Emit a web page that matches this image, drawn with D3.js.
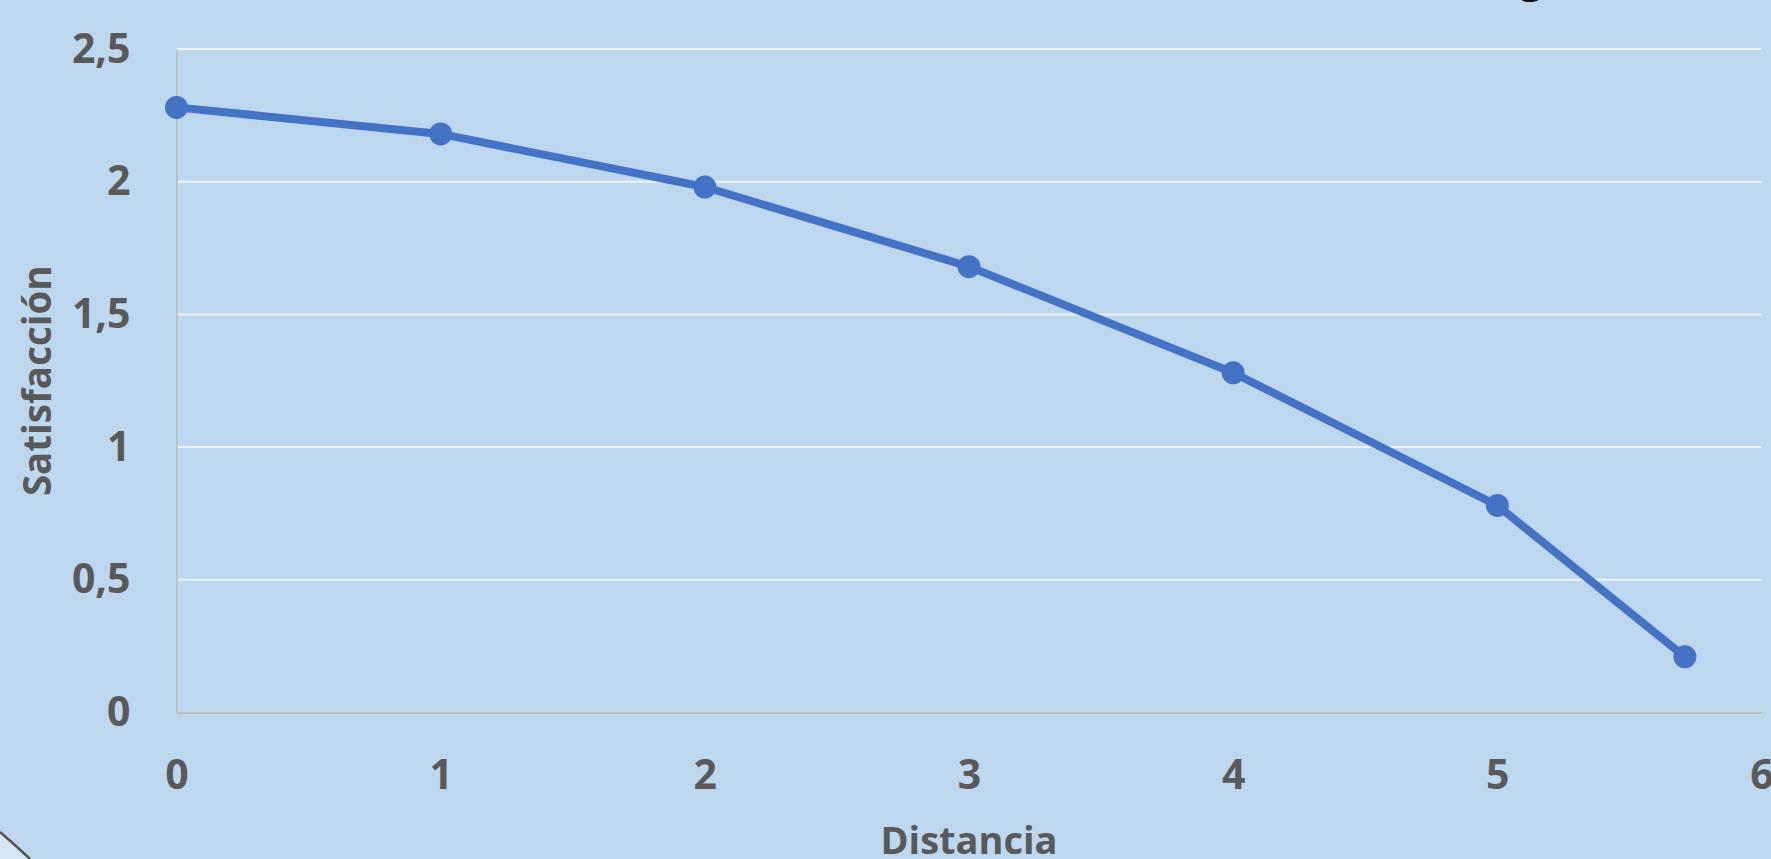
<!DOCTYPE html>
<html>
<head>
<meta charset="utf-8">
<script src="https://cdn.jsdelivr.net/npm/d3@7"></script>
<style>
  html, body { margin: 0; padding: 0; background: #bdd7ee; overflow: hidden; }
  svg { display: block; }
</style>
</head>
<body>
<svg id="chart" width="1771" height="859"></svg>
<script>
const distancia = [0, 1, 2, 3, 4, 5, 5.71];
const satisfaccion = [2.28, 2.18, 1.98, 1.68, 1.28, 0.78, 0.21];
const xTicks = [0, 1, 2, 3, 4, 5, 6];
const yTicks = [0, 0.5, 1, 1.5, 2, 2.5];
const xTitle = "Distancia";
const yTitle = "Satisfacción";

const W = 1771, H = 859;
const svg = d3.select("#chart");
const font = "'Open Sans', Lato, sans-serif";
const textColor = "#595959";

svg.append("rect").attr("width", W).attr("height", H).attr("fill", "#bdd7ee");

const x = d3.scaleLinear().domain([0, 6]).range([176.5, 1761.5]);
const y = d3.scaleLinear().domain([0, 2.5]).range([712.5, 49]);

// gridlines
svg.append("g")
  .selectAll("line")
  .data(yTicks.filter(d => d > 0))
  .join("line")
  .attr("x1", x(0)).attr("x2", x(6))
  .attr("y1", d => y(d)).attr("y2", d => y(d))
  .attr("stroke", "#f0f4f9").attr("stroke-width", 2);

// y axis
const yAxis = svg.append("g")
  .attr("transform", `translate(${x(0)},0)`)
  .call(d3.axisLeft(y).tickValues(yTicks).tickSize(0).tickPadding(46)
    .tickFormat(d => String(d).replace(".", ",")));
yAxis.select(".domain").attr("stroke", "#bfbfbf").attr("stroke-width", 2);
yAxis.selectAll("text")
  .attr("fill", textColor).attr("font-family", font)
  .attr("font-weight", "bold").attr("font-size", 41);

// x axis
const xAxis = svg.append("g")
  .attr("transform", `translate(0,${y(0)})`)
  .call(d3.axisBottom(x).tickValues(xTicks).tickSize(0).tickPadding(47)
    .tickFormat(d => String(d)));
xAxis.select(".domain").attr("stroke", "#bfbfbf").attr("stroke-width", 2);
xAxis.selectAll("text")
  .attr("fill", textColor).attr("font-family", font)
  .attr("font-weight", "bold").attr("font-size", 41);

// line
const pts = distancia.map((d, i) => [d, satisfaccion[i]]);
svg.append("path")
  .datum(pts)
  .attr("fill", "none")
  .attr("stroke", "#4472c4")
  .attr("stroke-width", 8)
  .attr("stroke-linejoin", "round")
  .attr("d", d3.line().x(d => x(d[0])).y(d => y(d[1])));

svg.append("g")
  .selectAll("circle")
  .data(pts)
  .join("circle")
  .attr("cx", d => x(d[0])).attr("cy", d => y(d[1]))
  .attr("r", 11.5)
  .attr("fill", "#4472c4");

// axis titles
svg.append("text")
  .attr("x", (x(0) + x(6)) / 2).attr("y", 854)
  .attr("text-anchor", "middle")
  .attr("fill", textColor).attr("font-family", font)
  .attr("font-weight", "bold").attr("font-size", 38)
  .text(xTitle);

svg.append("text")
  .attr("transform", `translate(51,${(y(0) + y(2.5)) / 2}) rotate(-90)`)
  .attr("text-anchor", "middle")
  .attr("fill", textColor).attr("font-family", font)
  .attr("font-weight", "bold").attr("font-size", 38.5)
  .text(yTitle);

// cut-off title descender at top
svg.append("text")
  .attr("x", 1531).attr("y", -7)
  .attr("text-anchor", "middle")
  .attr("fill", "#111").attr("font-family", font)
  .attr("font-weight", "bold").attr("font-size", 40)
  .text("g");

// frame corner at bottom-left
svg.append("path")
  .attr("d", "M0,832 Q13,843 30,859 L0,859 Z")
  .attr("fill", "#d6e6f5");
svg.append("path")
  .attr("d", "M0,832 Q13,843 30,859")
  .attr("fill", "none")
  .attr("stroke", "#555")
  .attr("stroke-width", 2.5);
</script>
</body>
</html>
